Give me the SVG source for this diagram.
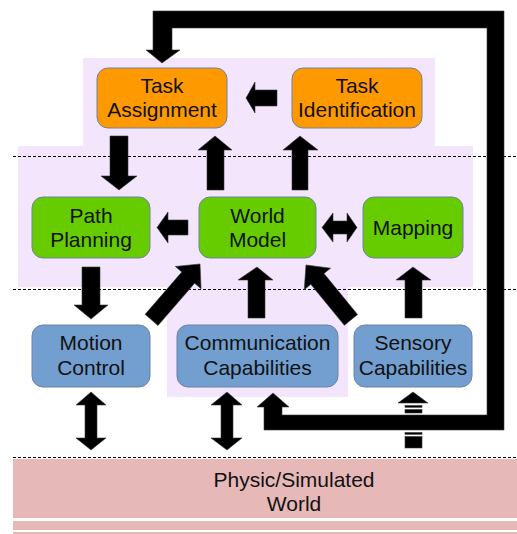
<svg xmlns="http://www.w3.org/2000/svg" width="517" height="534" viewBox="0 0 517 534">
  <style>
    .zone { fill: #f3e6fc; }
    .sep { stroke: #000; stroke-width: 1.2; stroke-dasharray: 3 2; fill: none; }
    .box { stroke: #6f80a8; stroke-width: 1; }
    .task { fill: #ff9900; }
    .model { fill: #66cc00; }
    .cap { fill: #729fcf; }
    .lbl { font-family: "Liberation Sans", Arial, sans-serif; font-size: 21px; fill: #111; text-anchor: middle; }
    .arrow { fill: #000; stroke: #3a3a3a; stroke-width: 0.6; stroke-linejoin: miter; }
    .world { fill: #e6b9b8; }
  </style>

  <rect width="517" height="534" fill="#fff"/>

  <!-- layer backgrounds -->
  <g id="zones">
    <rect class="zone" x="83" y="58" width="352" height="88"/>
    <rect class="zone" x="18" y="146" width="455" height="141"/>
    <rect class="zone" x="167" y="287" width="181" height="110"/>
  </g>

  <!-- layer separators -->
  <g id="separators">
    <line class="sep" x1="13" y1="156.5" x2="517" y2="156.5"/>
    <line class="sep" x1="13" y1="289.5" x2="517" y2="289.5"/>
    <line class="sep" x1="13" y1="457.5" x2="517" y2="457.5"/>
  </g>

  <!-- physical / simulated world -->
  <g id="world">
    <rect class="world" x="13" y="459" width="504" height="59"/>
    <rect class="world" x="13" y="521" width="504" height="9"/>
    <rect class="world" x="13" y="532" width="504" height="2"/>
    <text class="lbl" x="294" y="487">Physic/Simulated</text>
    <text class="lbl" x="294" y="511">World</text>
  </g>

  <!-- connectors -->
  <g id="connectors">
    <!-- feedback loop from the world back to task assignment / communication -->
    <polygon class="arrow" points="273,393 289,407 282,407 282,415 487,415 487,28 172,28 172,50 180,50 162,63 146,50 153,50 153,11 504,11 504,430 264,430 264,407 257,407"/>

    <!-- task identification -> task assignment -->
    <polygon class="arrow" points="246,98 255,82 255,90 277,90 277,106 255,106 255,113"/>

    <!-- task assignment -> path planning -->
    <polygon class="arrow" points="110,136 128,136 128,176 137,176 119,190 101,176 110,176"/>

    <!-- world model -> task assignment -->
    <polygon class="arrow" points="215,136 232,150 224,150 224,190 207,190 207,150 198,150"/>

    <!-- world model -> task identification -->
    <polygon class="arrow" points="300,136 318,150 308,150 308,190 292,190 292,150 283,150"/>

    <!-- world model -> path planning -->
    <polygon class="arrow" points="157,227.5 168,212 168,220 188,220 188,235 168,235 168,243"/>

    <!-- world model <-> mapping -->
    <polygon class="arrow" points="322,227.5 333,213 333,221 347,221 347,213 357,227.5 347,242 347,234 333,234 333,242"/>

    <!-- path planning -> motion control -->
    <polygon class="arrow" points="82,267 100,267 100,305 108,305 91,319 74,305 82,305"/>

    <!-- motion control -> world model -->
    <g transform="translate(200,264) rotate(-49.1)">
      <polygon class="arrow" points="0,0 -18,-17 -18,-8.5 -74,-8.5 -74,8.5 -18,8.5 -18,17"/>
    </g>

    <!-- communication -> world model -->
    <polygon class="arrow" points="257,267 273,280 265,280 265,318 248,318 248,280 238,280"/>

    <!-- sensory -> world model -->
    <g transform="translate(306,265) rotate(-129.3)">
      <polygon class="arrow" points="0,0 -18,-17 -18,-8.5 -71,-8.5 -71,8.5 -18,8.5 -18,17"/>
    </g>

    <!-- sensory -> mapping -->
    <polygon class="arrow" points="413,267 431,280 422,280 422,318 405,318 405,280 396,280"/>

    <!-- motion control <-> world -->
    <polygon class="arrow" points="91,392 106,405 97,405 97,438 106,438 91,450 76,438 85,438 85,405 76,405"/>

    <!-- communication <-> world -->
    <polygon class="arrow" points="227,392 242,405 233,405 233,438 242,438 227,450 211,438 221,438 221,405 211,405"/>

    <!-- world -> sensory, passing under the feedback loop -->
    <polygon class="arrow" points="413,392 428,403 398,403"/>
    <rect class="arrow" x="405" y="405.5" width="17" height="1.8"/>
    <rect class="arrow" x="405" y="409.5" width="17" height="3.5"/>
    <rect class="arrow" x="405" y="432.5" width="17" height="1.8"/>
    <rect class="arrow" x="405" y="436.5" width="17" height="11.5"/>
  </g>

  <!-- nodes -->
  <g id="task-assignment">
    <rect class="box task" x="97" y="68" width="130" height="60" rx="11"/>
    <text class="lbl" x="162" y="93">Task</text>
    <text class="lbl" x="162" y="117">Assignment</text>
  </g>
  <g id="task-identification">
    <rect class="box task" x="292" y="68" width="130" height="60" rx="11"/>
    <text class="lbl" x="357" y="93">Task</text>
    <text class="lbl" x="357" y="117">Identification</text>
  </g>
  <g id="path-planning">
    <rect class="box model" x="32" y="197" width="118" height="61" rx="11"/>
    <text class="lbl" x="91" y="223">Path</text>
    <text class="lbl" x="91" y="247">Planning</text>
  </g>
  <g id="world-model">
    <rect class="box model" x="199" y="197" width="117" height="61" rx="11"/>
    <text class="lbl" x="257.5" y="223">World</text>
    <text class="lbl" x="257.5" y="247">Model</text>
  </g>
  <g id="mapping">
    <rect class="box model" x="363" y="197" width="100" height="61" rx="11"/>
    <text class="lbl" x="413" y="235">Mapping</text>
  </g>
  <g id="motion-control">
    <rect class="box cap" x="32" y="325" width="118" height="62" rx="11"/>
    <text class="lbl" x="91" y="350">Motion</text>
    <text class="lbl" x="91" y="375">Control</text>
  </g>
  <g id="communication-capabilities">
    <rect class="box cap" x="177" y="325" width="161" height="62" rx="11"/>
    <text class="lbl" x="257.5" y="350">Communication</text>
    <text class="lbl" x="257.5" y="375">Capabilities</text>
  </g>
  <g id="sensory-capabilities">
    <rect class="box cap" x="354" y="325" width="118" height="62" rx="11"/>
    <text class="lbl" x="413" y="350">Sensory</text>
    <text class="lbl" x="413" y="375">Capabilities</text>
  </g>
</svg>
